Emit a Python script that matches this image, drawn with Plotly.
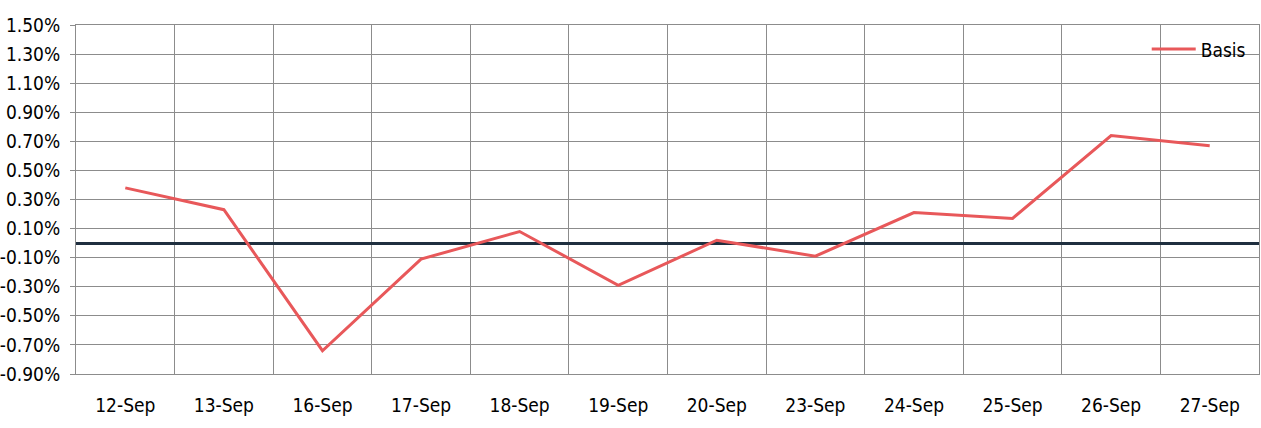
import plotly.graph_objects as go

# Daily basis (in percent) for the trading days shown
dates = ["12-Sep", "13-Sep", "16-Sep", "17-Sep", "18-Sep", "19-Sep",
         "20-Sep", "23-Sep", "24-Sep", "25-Sep", "26-Sep", "27-Sep"]
basis = [0.38, 0.23, -0.74, -0.11, 0.08, -0.29, 0.02, -0.09, 0.21, 0.17, 0.74, 0.67]

y_ticks = [-0.9, -0.7, -0.5, -0.3, -0.1, 0.1, 0.3, 0.5, 0.7, 0.9, 1.1, 1.3, 1.5]
y_tick_text = [f"{v:.2f}%" for v in y_ticks]

font_family = "Liberation Sans Narrow, DejaVu Sans Condensed, Arial Narrow, sans-serif"

fig = go.Figure()
fig.add_trace(go.Scatter(
    x=dates, y=basis, mode="lines", name="Basis",
    line=dict(color="#e8585a", width=3),
))

fig.update_layout(
    width=1261, height=428,
    margin=dict(l=76, r=2, t=25, b=54),
    paper_bgcolor="white", plot_bgcolor="white",
    font=dict(family=font_family, size=19, color="#000000"),
    showlegend=True,
    legend=dict(x=0.993, y=0.985, xanchor="right", yanchor="top",
                bgcolor="rgba(0,0,0,0)", font=dict(size=19),
                itemwidth=44),
)

fig.update_xaxes(
    type="category", range=[-0.5, 11.5], tickson="boundaries",
    showgrid=True, gridcolor="#8c8c8c", gridwidth=1,
    showline=True, linecolor="#8c8c8c", mirror=True,
    ticks="", ticklabelstandoff=14, automargin=False,
)
fig.update_yaxes(
    range=[-0.9, 1.5], tickvals=y_ticks, ticktext=y_tick_text,
    showgrid=True, gridcolor="#8c8c8c", gridwidth=1,
    showline=True, linecolor="#8c8c8c", mirror=True,
    ticks="outside", ticklen=5, tickcolor="#8c8c8c", ticklabelstandoff=6,
    zeroline=True, zerolinecolor="#1f2f3f", zerolinewidth=3, automargin=False,
)

fig.write_html("out.html")
